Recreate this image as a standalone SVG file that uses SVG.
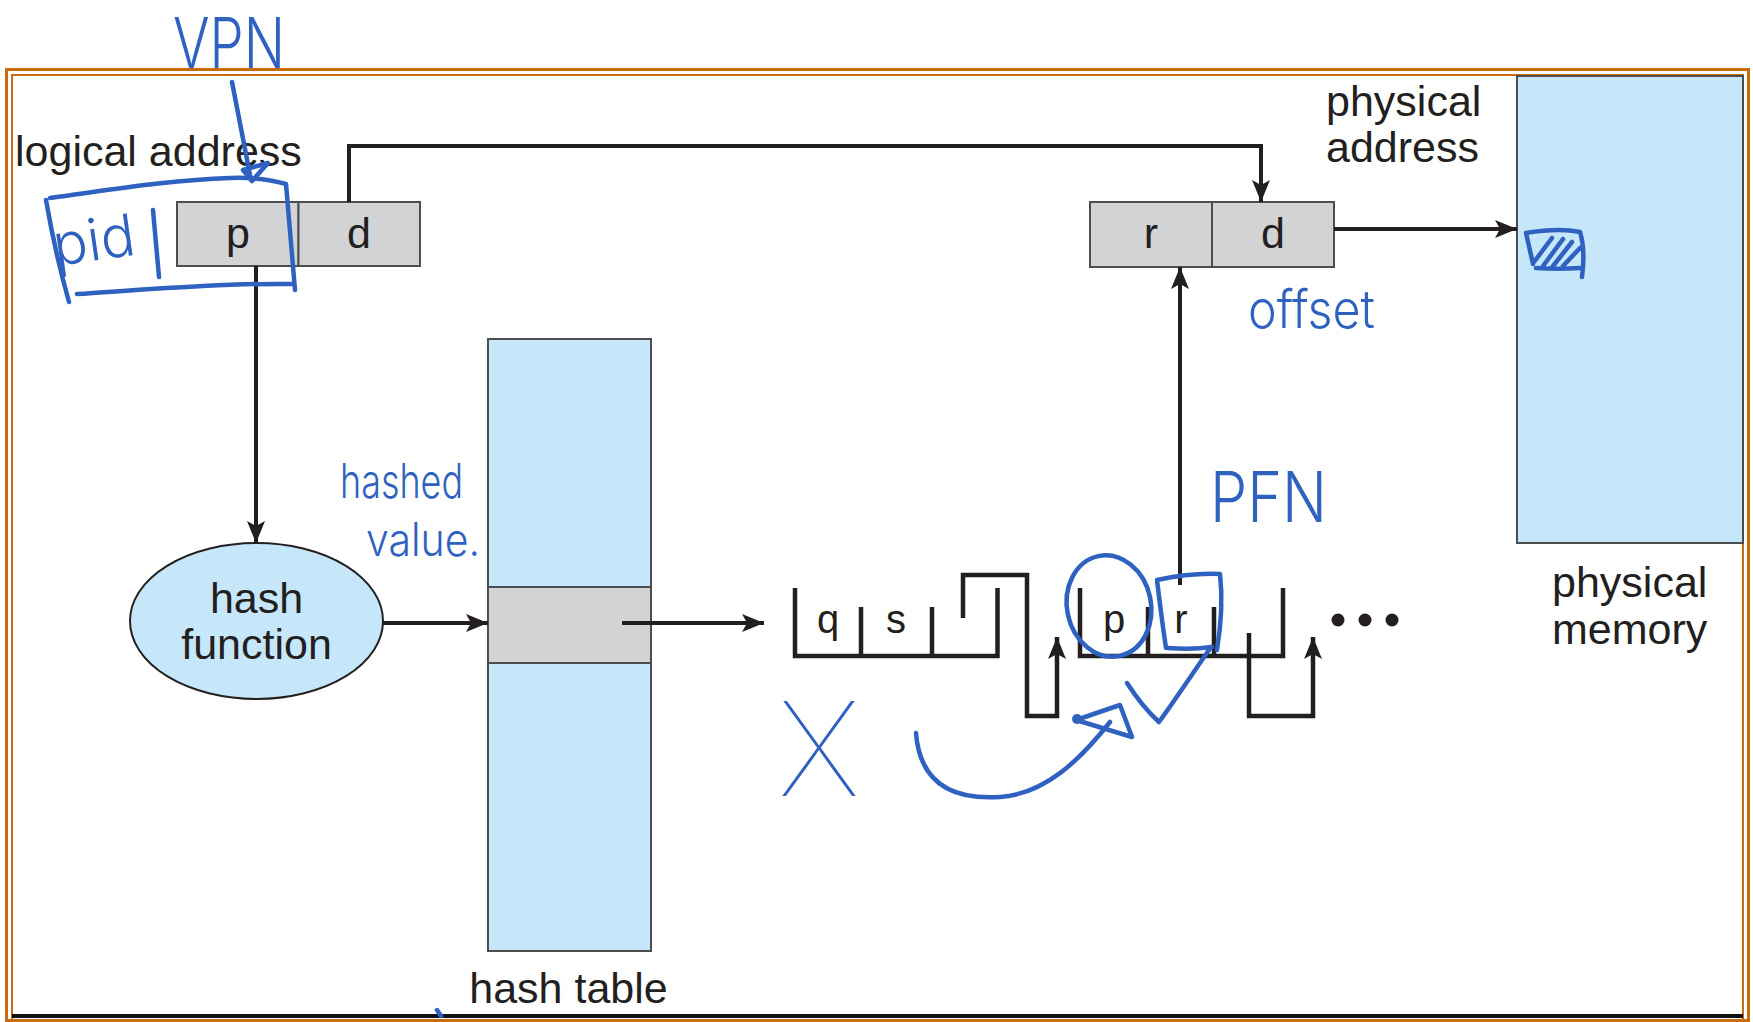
<svg xmlns="http://www.w3.org/2000/svg" width="1753" height="1022" viewBox="0 0 1753 1022">
<style>
.frame{fill:none;stroke:#cc6a12}
.gray{fill:#d1d3d4;stroke:#4d4d4d;stroke-width:2}
.lblue{fill:#c6e7f9;stroke:#4d4d4d;stroke-width:2}
.lbl{font-family:"Liberation Sans",Arial,sans-serif;font-size:43px;fill:#231f20}
.cell{font-family:"Liberation Sans",Arial,sans-serif;font-size:40px;fill:#231f20;text-anchor:middle}
.conn{fill:none;stroke:#231f20;stroke-width:4}
.chain{fill:none;stroke:#231f20;stroke-width:4.5;stroke-linejoin:miter}
.hand{fill:none;stroke:#2f62c0;stroke-width:4.5;stroke-linecap:round;stroke-linejoin:round}
.htxt{font-family:Inter,Lato,"DejaVu Sans",sans-serif;font-weight:300;fill:#2f62c0}
</style>
<defs>
<marker id="ah" viewBox="0 0 22 18" refX="22" refY="9" markerWidth="22" markerHeight="18" markerUnits="userSpaceOnUse" orient="auto">
<path d="M0,0 L22,9 L0,18 L5,9 z" fill="#231f20"/>
</marker>
</defs>
<rect width="1753" height="1022" fill="#ffffff"/>
<g id="frame">
<rect class="frame" x="6.5" y="69.5" width="1742" height="970" stroke-width="3"/>
<rect class="frame" x="12" y="75" width="1731" height="960" stroke-width="2"/>
<line x1="12" y1="1016" x2="1743" y2="1016" stroke="#111" stroke-width="4"/>
<line x1="6" y1="1020.5" x2="1749" y2="1020.5" stroke="#cc6a12" stroke-width="3"/>
</g>
<g id="physical-memory">
<rect class="lblue" x="1517" y="76" width="226" height="467"/>
<text class="lbl" x="1552" y="597">physical</text>
<text class="lbl" x="1552" y="644">memory</text>
</g>
<g id="logical-address">
<text class="lbl" x="15" y="166">logical address</text>
<rect class="gray" x="177" y="202" width="121.5" height="64"/>
<rect class="gray" x="298.5" y="202" width="121.5" height="64"/>
<text class="lbl" x="238" y="248" text-anchor="middle">p</text>
<text class="lbl" x="359" y="248" text-anchor="middle">d</text>
</g>
<g id="physical-address">
<text class="lbl" x="1326" y="116">physical</text>
<text class="lbl" x="1326" y="162">address</text>
<rect class="gray" x="1090" y="202" width="122" height="65"/>
<rect class="gray" x="1212" y="202" width="122" height="65"/>
<text class="lbl" x="1151" y="248" text-anchor="middle">r</text>
<text class="lbl" x="1273" y="248" text-anchor="middle">d</text>
</g>
<g id="hash-function">
<ellipse cx="256.5" cy="621" rx="126.5" ry="78" fill="#c6e7f9" stroke="#231f20" stroke-width="2"/>
<text class="lbl" x="256.5" y="613" text-anchor="middle">hash</text>
<text class="lbl" x="256.5" y="659" text-anchor="middle">function</text>
</g>
<g id="hash-table">
<rect class="lblue" x="488" y="339" width="163" height="612"/>
<rect class="gray" x="488" y="587" width="163" height="76"/>
<text class="lbl" x="568.5" y="1003" text-anchor="middle">hash table</text>
</g>
<g id="entry-qs">
<path class="chain" d="M795,588 V656 H997.5 V588 M861,607 V656 M932,607 V656"/>
<text class="cell" x="828" y="633">q</text>
<text class="cell" x="896" y="633">s</text>
</g>
<g id="entry-pr">
<path class="chain" d="M1080,588 V656 H1283 V588 M1148,607 V656 M1214,607 V656"/>
<text class="cell" x="1114" y="633">p</text>
<text class="cell" x="1181" y="633">r</text>
</g>
<g id="more">
<circle cx="1338" cy="620" r="6.5" fill="#231f20"/>
<circle cx="1365" cy="620" r="6.5" fill="#231f20"/>
<circle cx="1392" cy="620" r="6.5" fill="#231f20"/>
</g>
<g id="connectors">
<path class="conn" d="M349,202 V146 H1261 V202" marker-end="url(#ah)"/>
<path class="conn" d="M256,266 V543" marker-end="url(#ah)"/>
<path class="conn" d="M1334,229 H1517" marker-end="url(#ah)"/>
<path class="conn" d="M383,623 H488" marker-end="url(#ah)"/>
<path class="conn" d="M622,623 H764" marker-end="url(#ah)"/>
<path class="conn" d="M1180,585 V267" marker-end="url(#ah)"/>
<path class="chain" d="M963,618 V575 H1027 V716 H1057 V637" marker-end="url(#ah)"/>
<path class="chain" d="M1249,633 V716 H1313 V637" marker-end="url(#ah)"/>
</g>
<g id="annotations">
<text class="htxt" x="173" y="68" font-size="70" textLength="112" lengthAdjust="spacingAndGlyphs">VPN</text>
<path class="hand" d="M232,82 L251,180 M243,170 L268,163 L252,181 Z"/>
<path class="hand" d="M50,198 C110,190 170,180 230,178 C255,177 272,180 286,184 L295,290 M293,284 C220,283 140,290 77,294 M46,200 C52,235 60,270 69,302"/>
<text class="htxt" x="56" y="266" font-size="58" textLength="82" lengthAdjust="spacingAndGlyphs" transform="rotate(-8 56 266)">pid</text>
<path class="hand" d="M153,210 L159,277"/>
<text class="htxt" x="340" y="498" font-size="48" textLength="123" lengthAdjust="spacingAndGlyphs">hashed</text>
<text class="htxt" x="366" y="556" font-size="46" textLength="114" lengthAdjust="spacingAndGlyphs">value.</text>
<text class="htxt" x="1248" y="328" font-size="52" textLength="127" lengthAdjust="spacingAndGlyphs">offset</text>
<path class="hand" d="M1526,233 C1545,230 1565,229 1580,232 C1584,245 1584,262 1582,277 M1580,268 C1565,269 1550,269 1536,268 M1526,233 L1533,264 M1534,262 L1552,238 M1543,266 L1563,239 M1553,266 L1572,242 M1563,266 L1580,248"/>
<text class="htxt" x="1210" y="522" font-size="70" textLength="117" lengthAdjust="spacingAndGlyphs">PFN</text>
<ellipse class="hand" cx="1109" cy="606" rx="42" ry="51" transform="rotate(-12 1109 606)"/>
<path class="hand" d="M1157,580 C1180,575 1200,573 1220,574 C1223,600 1221,625 1217,650 M1212,647 C1198,649 1182,649 1168,648 M1157,580 C1160,605 1163,628 1166,648"/>
<path class="hand" d="M1127,683 C1138,700 1148,712 1159,722 C1175,700 1195,670 1211,647"/>
<path class="hand" d="M916,733 C920,785 955,800 1000,797 C1045,794 1080,760 1110,722"/>
<path class="hand" d="M1076,720 L1120,705 L1132,737 Z"/>
<circle cx="1077" cy="719" r="5" fill="#2f62c0"/>
<text class="htxt" x="778" y="796" font-size="130" font-weight="100" style="font-weight:100" textLength="82" lengthAdjust="spacingAndGlyphs">X</text>
<path class="hand" d="M437,1010 L441,1016"/>
</g>
</svg>
